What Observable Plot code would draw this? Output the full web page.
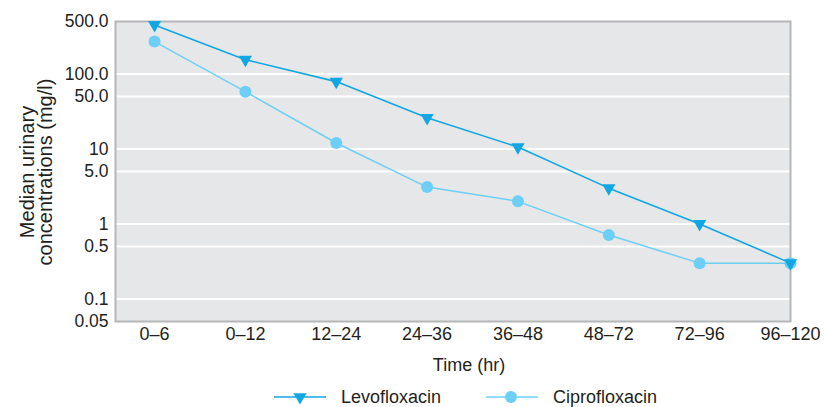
<!DOCTYPE html>
<html>
<head>
<meta charset="utf-8">
<script src="https://cdn.jsdelivr.net/npm/d3@7"></script>
<script src="https://cdn.jsdelivr.net/npm/@observablehq/plot@0.6"></script>
<style>
  html, body { margin: 0; padding: 0; background: #fff; }
  #chart { width: 824px; height: 407px; }
</style>
</head>
<body>
<div id="chart"></div>
<script>
const categories = ["0–6", "0–12", "12–24", "24–36", "36–48", "48–72", "72–96", "96–120"];
const levofloxacin = [450, 155, 79, 26, 10.6, 3.0, 1.0, 0.30];
const ciprofloxacin = [270, 58, 12, 3.1, 2.0, 0.71, 0.30, 0.30];
const yTicks = [500, 100, 50, 10, 5, 1, 0.5, 0.1, 0.05];
const yTickLabels = ["500.0", "100.0", "50.0", "10", "5.0", "1", "0.5", "0.1", "0.05"];
const gridValues = [100, 50, 10, 5, 1, 0.5, 0.1];
const seriesNames = ["Levofloxacin", "Ciprofloxacin"];
const seriesColors = ["#12a6e2", "#6dcff5"];

const FONT = "'Liberation Sans', Arial, Helvetica, sans-serif";
const TXT = "#231f20";

const levoRows = categories.map((c, i) => ({i, v: levofloxacin[i]}));
const ciproRows = categories.map((c, i) => ({i, v: ciprofloxacin[i]}));
const xIdx = categories.map((c, i) => i);

const plot = Plot.plot({
  width: 824,
  height: 407,
  marginLeft: 115,
  marginRight: 34,
  marginTop: 21,
  marginBottom: 86,
  style: {fontFamily: FONT, fontSize: "17px", color: TXT, background: "#fff"},
  x: {type: "linear", domain: [-0.43, 7], axis: null},
  y: {type: "log", domain: [0.05, 500], axis: null},
  marks: [
    Plot.frame({fill: "#e6e7e8"}),
    Plot.ruleY(gridValues, {stroke: "#ffffff", strokeWidth: 2}),
    Plot.frame({stroke: "#b5b6b8", strokeWidth: 2}),
    Plot.line(ciproRows, {x: "i", y: "v", stroke: seriesColors[1], strokeWidth: 1.5}),
    Plot.line(levoRows, {x: "i", y: "v", stroke: seriesColors[0], strokeWidth: 1.6}),
    Plot.dot(ciproRows, {x: "i", y: "v", r: 6, fill: seriesColors[1], symbol: "circle"}),
    Plot.dot(levoRows, {x: "i", y: "v", r: 4.9, fill: seriesColors[0], symbol: "triangle", rotate: 180}),
    Plot.text(yTicks, {y: d => d, text: (d, i) => yTickLabels[i], frameAnchor: "left", textAnchor: "end", dx: -7, fontSize: 17.5, fill: TXT}),
    Plot.text(xIdx, {x: d => d, text: d => categories[d], frameAnchor: "bottom", lineAnchor: "top", dy: 6, fontSize: 18, fill: TXT})
  ]
});
document.getElementById("chart").appendChild(plot);

const svg = d3.select(plot);
// Y axis title (two lines)
const yt = svg.append("text")
  .attr("transform", "translate(34,172) rotate(-90)")
  .attr("text-anchor", "middle")
  .attr("fill", TXT)
  .style("font-family", FONT)
  .style("font-size", "20px");
yt.append("tspan").attr("x", 0).attr("y", 0).text("Median urinary");
yt.append("tspan").attr("x", 0).attr("y", 18).text("concentrations (mg/l)");

// X axis title
svg.append("text")
  .attr("x", 469).attr("y", 371)
  .attr("text-anchor", "middle")
  .attr("fill", TXT)
  .style("font-family", FONT)
  .style("font-size", "18px")
  .text("Time (hr)");

// Legend
const legendX = [274, 486];
seriesNames.forEach((name, k) => {
  const g = svg.append("g").attr("transform", `translate(${legendX[k]},397)`);
  g.append("line").attr("x1", 0).attr("x2", 52).attr("y1", 0).attr("y2", 0)
    .attr("stroke", seriesColors[k]).attr("stroke-width", 1.6);
  if (k === 0) {
    g.append("path").attr("d", d3.symbol(d3.symbolTriangle, Math.PI * 4.9 * 4.9)())
      .attr("transform", "translate(26,0) rotate(180)")
      .attr("fill", seriesColors[k]);
  } else {
    g.append("circle").attr("cx", 25).attr("cy", 0).attr("r", 6).attr("fill", seriesColors[k]);
  }
  g.append("text").attr("x", 67).attr("y", 0).attr("dy", "0.35em")
    .attr("text-anchor", "start")
    .attr("fill", TXT)
    .style("font-family", FONT)
    .style("font-size", "18px").text(name);
});
</script>
</body>
</html>
